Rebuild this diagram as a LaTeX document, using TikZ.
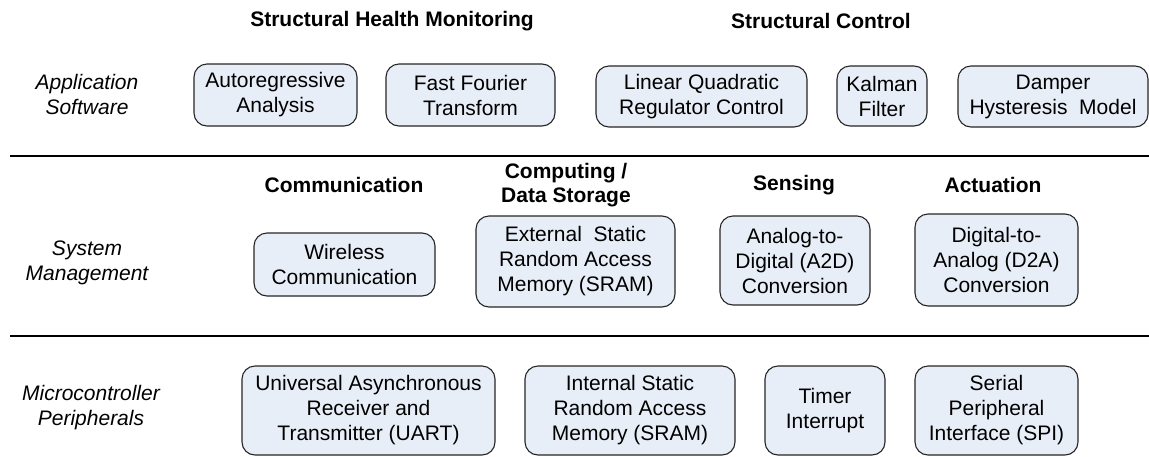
\documentclass[tikz,border=0pt]{standalone}
\usepackage{fontspec}
\setmainfont{Liberation Sans}
\definecolor{boxfill}{HTML}{E8EEF8}
\definecolor{boxline}{HTML}{262626}
\begin{document}
\begin{tikzpicture}[x=1pt,y=-1pt,
  every node/.style={font=\fontsize{21}{25}\selectfont, align=center, inner sep=0pt},
  unit/.style={draw=boxline, line width=1.1pt, fill=boxfill, rounded corners=13pt},
  heading/.style={font=\fontsize{21}{24}\selectfont\bfseries},
  layer/.style={font=\fontsize{21}{25}\selectfont\itshape},
  divider/.style={line width=1.7pt, draw=black}]
\useasboundingbox[fill=white] (0,0) rectangle (1149,456);

% layer names
\node[layer] (app) at (87,94) {Application\\Software};
\node[layer] (sys) at (87,263) {System\\Management};
\node[layer] (mcu) at (91,408) {Microcontroller\\Peripherals};

% group headings
\node[heading] (shm) at (392,21) {Structural Health Monitoring};
\node[heading] (ctl) at (821,21) {Structural Control};
\node[heading] (com) at (344,185) {Communication};
\node[heading] (cds) at (566,185) {Computing /\\Data Storage};
\node[heading] (sen) at (794,185) {Sensing};
\node[heading] (act) at (993,185) {Actuation};

% application software
\node[unit, minimum width=163pt, minimum height=62pt] (ar)  at (275.5,95) {Autoregressive\\Analysis};
\node[unit, minimum width=169pt, minimum height=62pt] (fft) at (470.5,95) {Fast Fourier\\Transform};
\node[unit, minimum width=211pt, minimum height=61pt] (lqr) at (701.5,96.5) {Linear Quadratic\\Regulator Control};
\node[unit, minimum width=90pt,  minimum height=60pt] (kf)  at (882,96) {Kalman\\Filter};
\node[unit, minimum width=190pt, minimum height=61pt] (dmp) at (1053,96.5) {Damper\\Hysteresis\ \ Model};

% system management
\node[unit, minimum width=181pt, minimum height=63pt] (wls) at (344.5,264.5) {Wireless\\Communication};
\node[unit, minimum width=199pt, minimum height=91pt] (ext) at (575.5,261.5) {External\ \ Static\\Random Access\\Memory (SRAM)};
\node[unit, minimum width=150pt, minimum height=89pt] (a2d) at (795,260.5) {Analog-to-\\Digital (A2D)\\Conversion};
\node[unit, minimum width=163pt, minimum height=92pt] (d2a) at (996.5,260) {Digital-to-\\Analog (D2A)\\Conversion};

% microcontroller peripherals
\node[unit, minimum width=253pt, minimum height=89pt] (uart) at (368.5,410.5) {Universal Asynchronous\\Receiver and\\Transmitter (UART)};
\node[unit, minimum width=210pt, minimum height=89pt] (int)  at (630,410.5) {Internal Static\\Random Access\\Memory (SRAM)};
\node[unit, minimum width=120pt, minimum height=89pt] (tmr)  at (825,410.5) {Timer\\Interrupt};
\node[unit, minimum width=163pt, minimum height=89pt] (spi)  at (996.5,410.5) {Serial\\Peripheral\\Interface (SPI)};

% layer dividers
\coordinate (d1a) at (10,156);
\coordinate (d1b) at (1149,156);
\coordinate (d2a) at (10,336);
\coordinate (d2b) at (1149,336);
\draw[divider] (d1a) -- (d1b);
\draw[divider] (d2a) -- (d2b);
\end{tikzpicture}
\end{document}
